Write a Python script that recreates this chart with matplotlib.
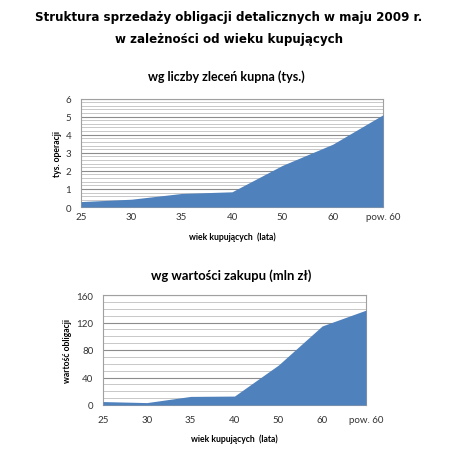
import matplotlib
matplotlib.use("Agg")
import matplotlib.pyplot as plt
from matplotlib.ticker import MultipleLocator

categories = ["25", "30", "35", "40", "50", "60", "pow. 60"]
orders = [0.3, 0.43, 0.75, 0.84, 2.3, 3.47, 5.1]
values = [5, 3.5, 12.5, 13, 58, 115, 138]

title_lines = ["Struktura sprzedaży obligacji detalicznych w maju 2009 r.",
               "w zależności od wieku kupujących"]
sub1 = "wg liczby zleceń kupna (tys.)"
sub2 = "wg wartości zakupu (mln zł)"
xlab = "wiek kupujących  (lata)"
ylab1 = "tys. operacji"
ylab2 = "wartość obligacji"

W, H = 459, 460
fig = plt.figure(figsize=(W / 100, H / 100), dpi=100)
fig.patch.set_facecolor("white")

def px_axes(x0, y0, x1, y1):
    return fig.add_axes([x0 / W, (H - y1) / H, (x1 - x0) / W, (y1 - y0) / H])

FILL = "#4F81BD"
FONT = "Lato"

def style(ax, data, ymax, major, minor, xpad, xlpad, ylpad, ylabel):
    x = list(range(len(categories)))
    ax.fill_between(x, 0, data, color=FILL, linewidth=0, zorder=3)
    ax.set_xlim(0, len(categories) - 1)
    ax.set_ylim(0, ymax)
    ax.yaxis.set_major_locator(MultipleLocator(major))
    ax.yaxis.set_minor_locator(MultipleLocator(minor))
    ax.grid(which="major", axis="y", color="#8c8c8c", linewidth=0.8, zorder=1)
    ax.grid(which="minor", axis="y", color="#c8c8c8", linewidth=0.7, zorder=1)
    ax.set_xticks(x)
    ax.set_xticklabels(categories)
    ax.tick_params(which="both", length=0)
    ax.tick_params(axis="x", pad=xpad)
    ax.tick_params(axis="y", pad=7)
    for lab in ax.get_xticklabels() + ax.get_yticklabels():
        lab.set_fontfamily(FONT)
        lab.set_fontsize(7)
        lab.set_color("#333333")
    for s in ax.spines.values():
        s.set_color("#a0a0a0")
        s.set_linewidth(0.8)
    ax.set_xlabel(xlab, fontfamily=FONT, fontsize=6.2, fontweight="bold", labelpad=xlpad)
    ax.set_ylabel(ylabel, fontfamily=FONT, fontsize=6.2, fontweight="bold", labelpad=ylpad)

ax1 = px_axes(81, 99.5, 383, 208)
style(ax1, orders, 6, 1, 0.2, 3.5, 7.5, 2.5, ylab1)
ax2 = px_axes(103, 296, 366, 406)
style(ax2, values, 160, 40, 10, 7.5, 6.5, 3, ylab2)

fig.text(229 / W, 1 - 17 / H, title_lines[0], ha="center", va="center",
         fontfamily="DejaVu Sans", fontweight="bold", fontsize=8.6)
fig.text(229 / W, 1 - 39 / H, title_lines[1], ha="center", va="center",
         fontfamily="DejaVu Sans", fontweight="bold", fontsize=8.6)
fig.text(226 / W, 1 - 77 / H, sub1, ha="center", va="center",
         fontfamily=FONT, fontweight="bold", fontsize=9)
fig.text(231 / W, 1 - 276 / H, sub2, ha="center", va="center",
         fontfamily=FONT, fontweight="bold", fontsize=9.4)

fig.savefig("out.png", dpi=100, facecolor="white")
